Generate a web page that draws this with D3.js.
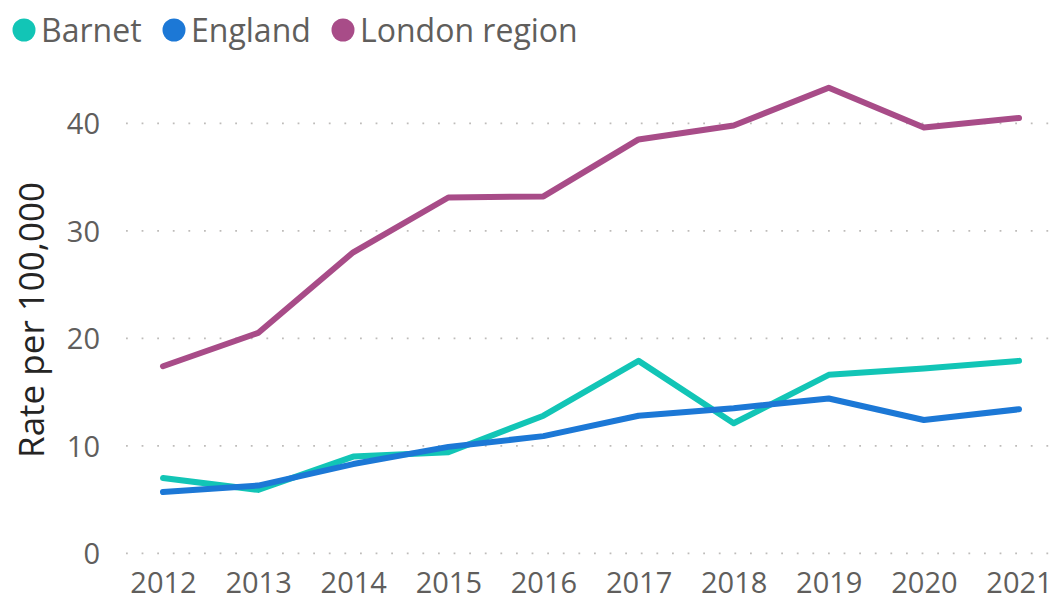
<!DOCTYPE html>
<html>
<head>
<title>Rate per 100,000</title>
<script src="https://d3js.org/d3.v7.min.js"></script>
</head>
<body>
</body>
<style>
body { margin: 0; background: #fff; }
text { font-family: "Open Sans", "Noto Sans", sans-serif; }
</style>
<script>

var years = [2012, 2013, 2014, 2015, 2016, 2017, 2018, 2019, 2020, 2021];
var barnet = [7.0, 5.9, 9.0, 9.4, 12.8, 17.9, 12.1, 16.6, 17.2, 17.9];
var england = [5.7, 6.3, 8.3, 9.9, 10.9, 12.8, 13.5, 14.4, 12.4, 13.4];
var london = [17.4, 20.5, 28.0, 33.1, 33.2, 38.5, 39.8, 43.3, 39.6, 40.5];
var yTicks = [0, 10, 20, 30, 40];
var seriesNames = ["Barnet", "England", "London region"];
var colours = ["#12C5B6", "#1C78D6", "#A84C88"];

var series = [barnet, england, london];

var svg = d3.select("body").append("svg")
	.attr("width", 1061).attr("height", 596);

var x = d3.scalePoint().domain(years).range([163, 1019]);
var y = d3.scaleLinear().domain([0, 40]).range([553.3, 123.3]);

// dotted gridlines
svg.append("g").selectAll("line")
	.data(yTicks)
	.enter().append("line")
	.attr("x1", 126).attr("x2", 1058)
	.attr("y1", function(d){ return y(d); })
	.attr("y2", function(d){ return y(d); })
	.style("stroke", "#bebcba")
	.style("stroke-width", 1.8)
	.style("stroke-dasharray", "1.8,13.8");

// y axis labels
var yAxis = d3.axisLeft(y).tickValues(yTicks).tickSize(0).tickPadding(0);
var gy = svg.append("g").attr("transform", "translate(100,0)").call(yAxis);
gy.select(".domain").remove();
gy.selectAll("text")
	.style("font-size", "29px")
	.style("fill", "#605E5C")
	.style("font-family", "'Open Sans', sans-serif")
	.attr("dy", "0.36em");

// x axis labels
var xAxis = d3.axisBottom(x).tickSize(0).tickPadding(0).tickFormat(d3.format("d"));
var gx = svg.append("g").attr("transform", "translate(0,565)").call(xAxis);
gx.select(".domain").remove();
gx.selectAll("text")
	.style("font-size", "29px")
	.style("fill", "#605E5C")
	.style("font-family", "'Open Sans', sans-serif")
	.attr("dy", "0.95em");

// y axis title
svg.append("text")
	.attr("transform", "translate(44,320) rotate(-90)")
	.attr("text-anchor", "middle")
	.style("font-size", "35px")
	.style("fill", "#252423")
	.text("Rate per 100,000");

// lines
var line = d3.line()
	.x(function(d, i){ return x(years[i]); })
	.y(function(d){ return y(d); });

svg.append("g").selectAll("path")
	.data(series)
	.enter().append("path")
	.attr("d", line)
	.style("fill", "none")
	.style("stroke", function(d, i){ return colours[i]; })
	.style("stroke-width", 6)
	.style("stroke-linejoin", "round")
	.style("stroke-linecap", "round");

// legend
var legendX = [24, 174, 343];
var lg = svg.append("g").selectAll("g")
	.data(seriesNames)
	.enter().append("g")
	.attr("transform", function(d, i){ return "translate(" + legendX[i] + ",30)"; });
lg.append("circle")
	.attr("r", 11.5)
	.style("fill", function(d, i){ return colours[i]; });
lg.append("text")
	.attr("x", 17)
	.attr("dy", "0.36em")
	.style("font-size", "32px")
	.style("fill", "#605E5C")
	.text(function(d){ return d; });

</script>
</html>
